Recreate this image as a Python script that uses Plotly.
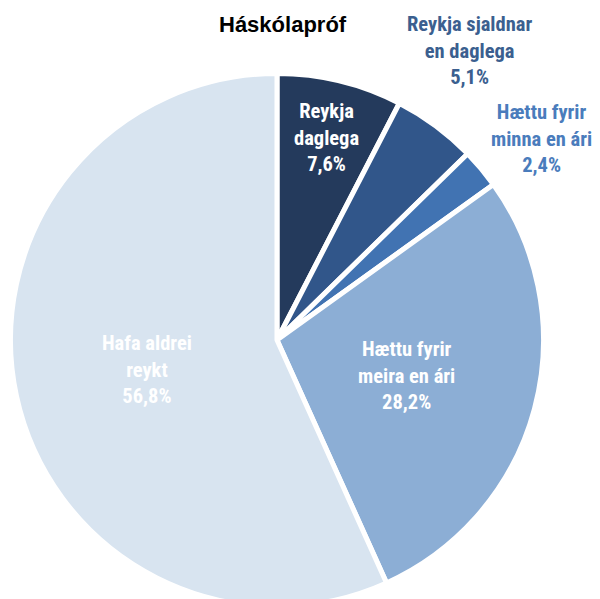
import plotly.graph_objects as go

title = "Háskólapróf"
labels = ["Reykja daglega", "Reykja sjaldnar en daglega", "Hættu fyrir minna en ári",
          "Hættu fyrir meira en ári", "Hafa aldrei reykt"]
label_lines = ["Reykja<br>daglega", "Reykja sjaldnar<br>en daglega", "Hættu fyrir<br>minna en ári",
               "Hættu fyrir<br>meira en ári", "Hafa aldrei<br>reykt"]
values = [7.6, 5.1, 2.4, 28.2, 56.8]
colors = ["#243a5c", "#31568a", "#4173b2", "#8caed5", "#d8e4f0"]
text_colors = ["#ffffff", "#3b5f8f", "#4a7cbc", "#ffffff", "#ffffff"]
# label anchor positions in pixels (x, y from top)
label_pos = [(326, 137), (469, 50), (541, 139), (406, 375), (147, 369)]

W, H = 600, 612          # figure slightly taller than the window; the pie runs off the bottom
CX, CY, R = 277, 340, 266.5
FONT = "Roboto Condensed, Liberation Sans, Arial, sans-serif"
TFONT = "Liberation Sans, Arial, sans-serif"

fig = go.Figure(go.Pie(
    labels=labels, values=values, sort=False, direction="clockwise", rotation=0,
    marker=dict(colors=colors, line=dict(color="white", width=5)),
    textinfo="none", hoverinfo="label+percent", showlegend=False,
    domain=dict(x=[(CX - R) / W, (CX + R) / W], y=[(H - CY - R) / H, (H - CY + R) / H]),
))

annotations = [dict(x=283 / W, y=1 - 25 / H, xref="paper", yref="paper", text="<b>" + title + "</b>",
                    showarrow=False, font=dict(family=TFONT, size=22, color="#000000"),
                    xanchor="center", yanchor="middle")]
for lab, v, tc, (px, py) in zip(label_lines, values, text_colors, label_pos):
    annotations.append(dict(
        x=px / W, y=1 - py / H, xref="paper", yref="paper",
        text="<b>" + lab + "<br>" + f"{v:.1f}".replace(".", ",") + "%</b>",
        showarrow=False, align="center", xanchor="center", yanchor="middle",
        font=dict(family=FONT, size=20.5, color=tc)))

fig.update_layout(width=W, height=H, margin=dict(l=0, r=0, t=0, b=0),
                  paper_bgcolor="white", plot_bgcolor="white", annotations=annotations)
fig.write_html("out.html", config={"displayModeBar": False},
               post_script="document.body.style.margin='0';document.body.style.overflow='hidden';")
